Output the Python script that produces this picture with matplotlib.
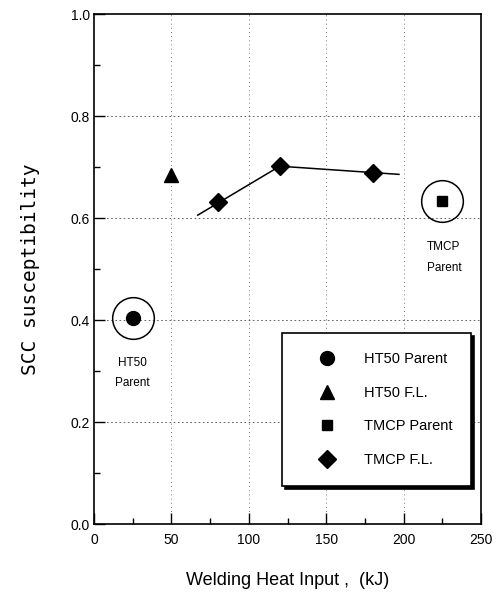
import matplotlib
matplotlib.use('Agg')
import matplotlib.pyplot as plt
from matplotlib.lines import Line2D

# data
ht50_parent_x = [25]
ht50_parent_y = [0.405]
ht50_fl_x = [50]
ht50_fl_y = [0.685]
tmcp_parent_x = [225]
tmcp_parent_y = [0.633]
tmcp_fl_x = [80, 120, 180]
tmcp_fl_y = [0.631, 0.702, 0.688]
# hand-drawn trend line through the TMCP F.L. points
trend_x = [67, 120, 197]
trend_y = [0.606, 0.702, 0.686]

xticks = [0, 50, 100, 150, 200, 250]
yticks = [0.0, 0.2, 0.4, 0.6, 0.8, 1.0]

sans = ['Liberation Sans', 'DejaVu Sans']

fig = plt.figure(figsize=(5.0, 5.93), dpi=100)
ax = fig.add_axes([0.188, 0.116, 0.774, 0.86])

ax.set_xlim(0, 250)
ax.set_ylim(0, 1.0)
ax.set_xticks(xticks)
ax.set_yticks(yticks)
ax.set_xticks([25, 75, 125, 175, 225], minor=True)
ax.set_yticks([0.1, 0.3, 0.5, 0.7, 0.9], minor=True)
ax.set_xticklabels([str(t) for t in xticks], family=sans, fontsize=10)
ax.set_yticklabels(['%.1f' % t for t in yticks], family=sans, fontsize=10)
ax.tick_params(which='major', direction='in', length=8, width=1)
ax.tick_params(which='minor', direction='in', length=4, width=1)
ax.tick_params(axis='x', pad=6)
ax.tick_params(axis='y', pad=3)
for s in ax.spines.values():
    s.set_linewidth(1.2)

for y in [0.2, 0.4, 0.6, 0.8]:
    ax.axhline(y, color='black', linestyle=(0, (2, 3)), linewidth=0.6, alpha=0.7, zorder=0)
for x in [50, 100, 150, 200]:
    ax.axvline(x, color='black', linestyle=(0, (1, 4)), linewidth=0.6, alpha=0.7, zorder=0)

ax.plot(trend_x, trend_y, color='black', linewidth=1.1, zorder=2)
ax.plot(ht50_parent_x, ht50_parent_y, 'o', color='black', markersize=10, zorder=3)
ax.plot(ht50_fl_x, ht50_fl_y, '^', color='black', markersize=10, zorder=3)
ax.plot(tmcp_parent_x, tmcp_parent_y, 's', color='black', markersize=7, zorder=3)
ax.plot(tmcp_fl_x, tmcp_fl_y, 'D', color='black', markersize=9, zorder=3)

# circles around the parent metal points
ax.plot(ht50_parent_x, ht50_parent_y, 'o', markerfacecolor='none',
        markeredgecolor='black', markersize=30, markeredgewidth=1.1, zorder=3)
ax.plot(tmcp_parent_x, tmcp_parent_y, 'o', markerfacecolor='none',
        markeredgecolor='black', markersize=30, markeredgewidth=1.1, zorder=3)

ax.text(ht50_parent_x[0], ht50_parent_y[0] - 0.108, 'HT50\nParent', ha='center', va='center',
        family=sans, fontsize=8.5, linespacing=1.9)
ax.text(tmcp_parent_x[0] + 1, tmcp_parent_y[0] - 0.11, 'TMCP\nParent', ha='center', va='center',
        family=sans, fontsize=8.5, linespacing=1.9)

handles = [
    Line2D([], [], marker='o', color='black', linestyle='none', markersize=10),
    Line2D([], [], marker='^', color='black', linestyle='none', markersize=10),
    Line2D([], [], marker='s', color='black', linestyle='none', markersize=7),
    Line2D([], [], marker='D', color='black', linestyle='none', markersize=9),
]
labels = ['HT50 Parent', 'HT50 F.L.', 'TMCP Parent', 'TMCP F.L.']
leg = ax.legend(handles, labels, loc='lower right', bbox_to_anchor=(0.975, 0.075),
                frameon=True, fancybox=False, shadow={'color': 'black', 'alpha': 1},
                prop={'family': sans, 'size': 10.5}, labelspacing=1.35,
                borderpad=1.3, handlelength=3.6, handletextpad=0.7, borderaxespad=0)
leg.get_frame().set_edgecolor('black')
leg.get_frame().set_linewidth(1.2)

ax.set_xlabel('Welding Heat Input ,  (kJ)', family=sans, fontsize=13, labelpad=18)
ax.set_ylabel('SCC susceptibility', family='DejaVu Sans Mono', fontsize=14, labelpad=22)

fig.savefig('out.png', dpi=100)
